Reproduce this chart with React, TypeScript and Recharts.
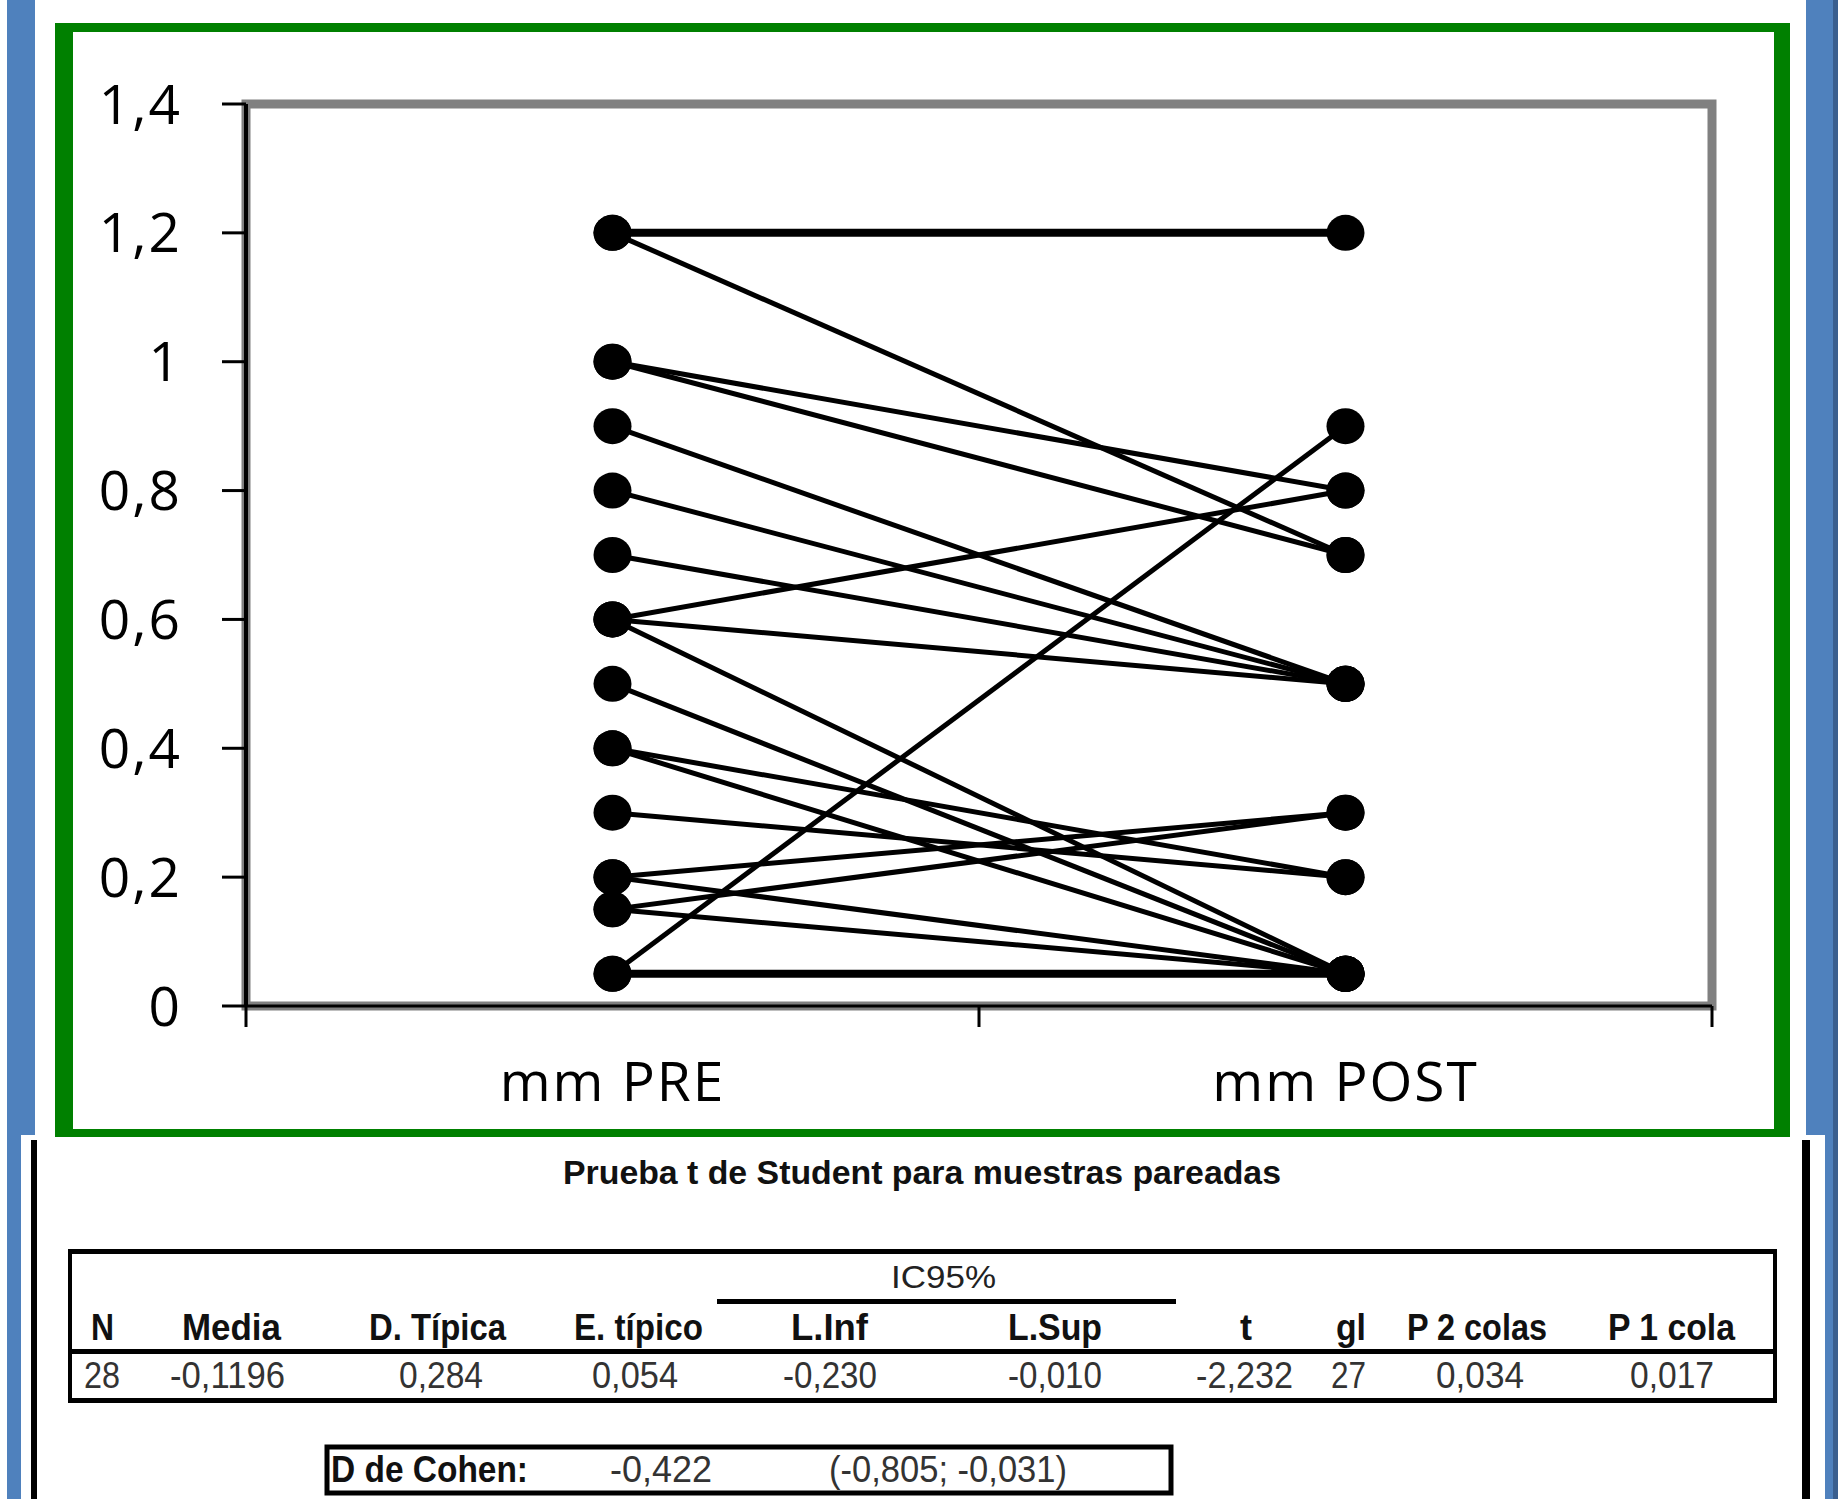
import { LineChart, Line, XAxis, YAxis, ReferenceArea } from 'recharts';

// paired measurements, one entry per visible subject line (PRE -> POST)
const categories = ['mm PRE', 'mm POST'];
const preValues = [1.2, 1.2, 1.0, 1.0, 0.9, 0.8, 0.7, 0.6, 0.6, 0.6, 0.5, 0.4, 0.4, 0.3, 0.2, 0.2, 0.15, 0.15, 0.05, 0.05];
const postValues = [1.2, 0.7, 0.8, 0.7, 0.5, 0.5, 0.5, 0.8, 0.5, 0.05, 0.05, 0.2, 0.05, 0.2, 0.3, 0.05, 0.3, 0.05, 0.05, 0.9];
const yTicks = [0, 0.2, 0.4, 0.6, 0.8, 1, 1.2, 1.4];
const xTicks = [0, 0.5, 1, 1.5, 2];

// summary table text
const tableTitle = 'Prueba t de Student para muestras pareadas';
const ciLabel = 'IC95%';
const tableHeaders = ['N', 'Media', 'D. Típica', 'E. típico', 'L.Inf', 'L.Sup', 't', 'gl', 'P 2 colas', 'P 1 cola'];
const tableValues = ['28', '-0,1196', '0,284', '0,054', '-0,230', '-0,010', '-2,232', '27', '0,034', '0,017'];
const cohenLabel = 'D de Cohen:';
const cohenValue = '-0,422';
const cohenInterval = '(-0,805; -0,031)';

// layout (start, end) of text spans in the table
const headerSpans = [[91, 114], [182, 281], [369, 506], [574, 703], [791, 868], [1008, 1102], [1240, 1252], [1336, 1366], [1407, 1547], [1608, 1735]];
const valueSpans = [[84, 120], [170, 285], [399, 483], [592, 678], [783, 877], [1008, 1102], [1196, 1293], [1331, 1366], [1436, 1524], [1630, 1714]];

const chartData = categories.map((cat, ci) => {
  const row: Record<string, number | string> = { pos: ci + 0.5, cat };
  preValues.forEach((v, i) => {
    row['s' + i] = ci === 0 ? v : postValues[i];
  });
  return row;
});

const fmt = (v: number) => String(v).replace('.', ',');

function XTick(props: any) {
  const { x, y, payload } = props;
  const v = payload.value;
  if (Number.isInteger(v)) {
    return <line x1={x} y1={y} x2={x} y2={y + 21} stroke="#000" strokeWidth={3} />;
  }
  return (
    <text x={x} y={y + 95} textAnchor="middle" fill="#000" fontFamily="'Open Sans'" fontSize={55} letterSpacing={2}>
      {categories[Math.floor(v)]}
    </text>
  );
}

const renderDot = (p: any) => (
  <ellipse key={`d-${p.dataKey}-${p.index}`} cx={p.cx} cy={p.cy} rx={19} ry={18} fill="#000" />
);

function T({ span, y, size = 36, bold = false, fill = '#111', children }: any) {
  return (
    <text
      x={span[0]}
      y={y}
      textLength={span[1] - span[0]}
      lengthAdjust="spacingAndGlyphs"
      fontFamily="'Liberation Sans', Arial, sans-serif"
      fontSize={size}
      fontWeight={bold ? 'bold' : 'normal'}
      fill={fill}
    >
      {children}
    </text>
  );
}

function Decorations() {
  const blue = '#4F81BD';
  const green = '#008000';
  return (
    <svg width={1838} height={1499} style={{ position: 'absolute', left: 0, top: 0 }}>
      <rect x={0} y={0} width={1838} height={1499} fill="#fff" />
      {/* side bars */}
      <rect x={7} y={0} width={28} height={1135} fill={blue} />
      <rect x={7} y={1135} width={14} height={364} fill={blue} />
      <rect x={1806} y={0} width={27} height={1135} fill={blue} />
      <rect x={1825} y={1135} width={8} height={364} fill={blue} />
      <rect x={1833} y={0} width={5} height={1499} fill="#3A5F8F" />
      {/* green frame */}
      <rect x={55} y={23} width={18} height={1114} fill={green} />
      <rect x={1774} y={23} width={16} height={1114} fill={green} />
      <rect x={55} y={23} width={1735} height={9} fill={green} />
      <rect x={55} y={1129} width={1735} height={8} fill={green} />
      {/* lower panel edges */}
      <rect x={31} y={1140} width={6} height={359} fill="#000" />
      <rect x={1802} y={1140} width={8} height={359} fill="#000" />

      {/* table */}
      <T span={[563, 1281]} y={1184} size={34} bold fill="#111">{tableTitle}</T>
      <rect x={68} y={1249} width={1709} height={5} fill="#000" />
      <rect x={68} y={1398} width={1709} height={5} fill="#000" />
      <rect x={68} y={1249} width={4} height={154} fill="#000" />
      <rect x={1773} y={1249} width={4} height={154} fill="#000" />
      <T span={[891, 996]} y={1288} size={32} fill="#222">{ciLabel}</T>
      <rect x={717} y={1299} width={459} height={5} fill="#000" />
      {tableHeaders.map((h, i) => (
        <T key={h} span={headerSpans[i]} y={1340} bold fill="#111">{h}</T>
      ))}
      <rect x={68} y={1349} width={1709} height={5} fill="#000" />
      {tableValues.map((v, i) => (
        <T key={i} span={valueSpans[i]} y={1388} fill="#333">{v}</T>
      ))}

      {/* Cohen box */}
      <rect x={327} y={1447} width={844} height={46} fill="none" stroke="#000" strokeWidth={5} />
      <T span={[331, 528]} y={1482} bold fill="#111">{cohenLabel}</T>
      <T span={[610, 712]} y={1482} fill="#333">{cohenValue}</T>
      <T span={[829, 1067]} y={1482} fill="#333">{cohenInterval}</T>
    </svg>
  );
}

export default function App() {
  return (
    <div style={{ position: 'absolute', left: 0, top: 0, width: 1838, height: 1499, background: '#fff' }}>
      <Decorations />
      <div style={{ position: 'absolute', left: 73, top: 32 }}>
        <LineChart width={1701} height={1097} data={chartData} margin={{ top: 72, right: 62, bottom: 23, left: 0 }}>
          <ReferenceArea x1={0} x2={2} y1={0} y2={1.4} fill="none" fillOpacity={0} stroke="#808080" strokeWidth={9} ifOverflow="visible" />
          <XAxis
            dataKey="pos"
            type="number"
            domain={[0, 2]}
            ticks={xTicks}
            interval={0}
            height={100}
            tickSize={0}
            tickMargin={0}
            tickLine={false}
            axisLine={{ stroke: '#000', strokeWidth: 3 }}
            tick={<XTick />}
          />
          <YAxis
            type="number"
            domain={[0, 1.4]}
            ticks={yTicks}
            interval={0}
            width={173}
            tickSize={24}
            tickMargin={40}
            tickFormatter={fmt}
            tickLine={{ stroke: '#000', strokeWidth: 3 }}
            axisLine={{ stroke: '#000', strokeWidth: 4 }}
            tick={{ fill: '#000', fontFamily: "'Open Sans'", fontSize: 55, letterSpacing: 2 }}
          />
          {preValues.map((v, i) => (
            <Line
              key={i}
              type="linear"
              dataKey={'s' + i}
              stroke="#000"
              strokeWidth={v === postValues[i] ? 8 : 5}
              dot={renderDot}
              activeDot={false}
              isAnimationActive={false}
            />
          ))}
        </LineChart>
      </div>
    </div>
  );
}
